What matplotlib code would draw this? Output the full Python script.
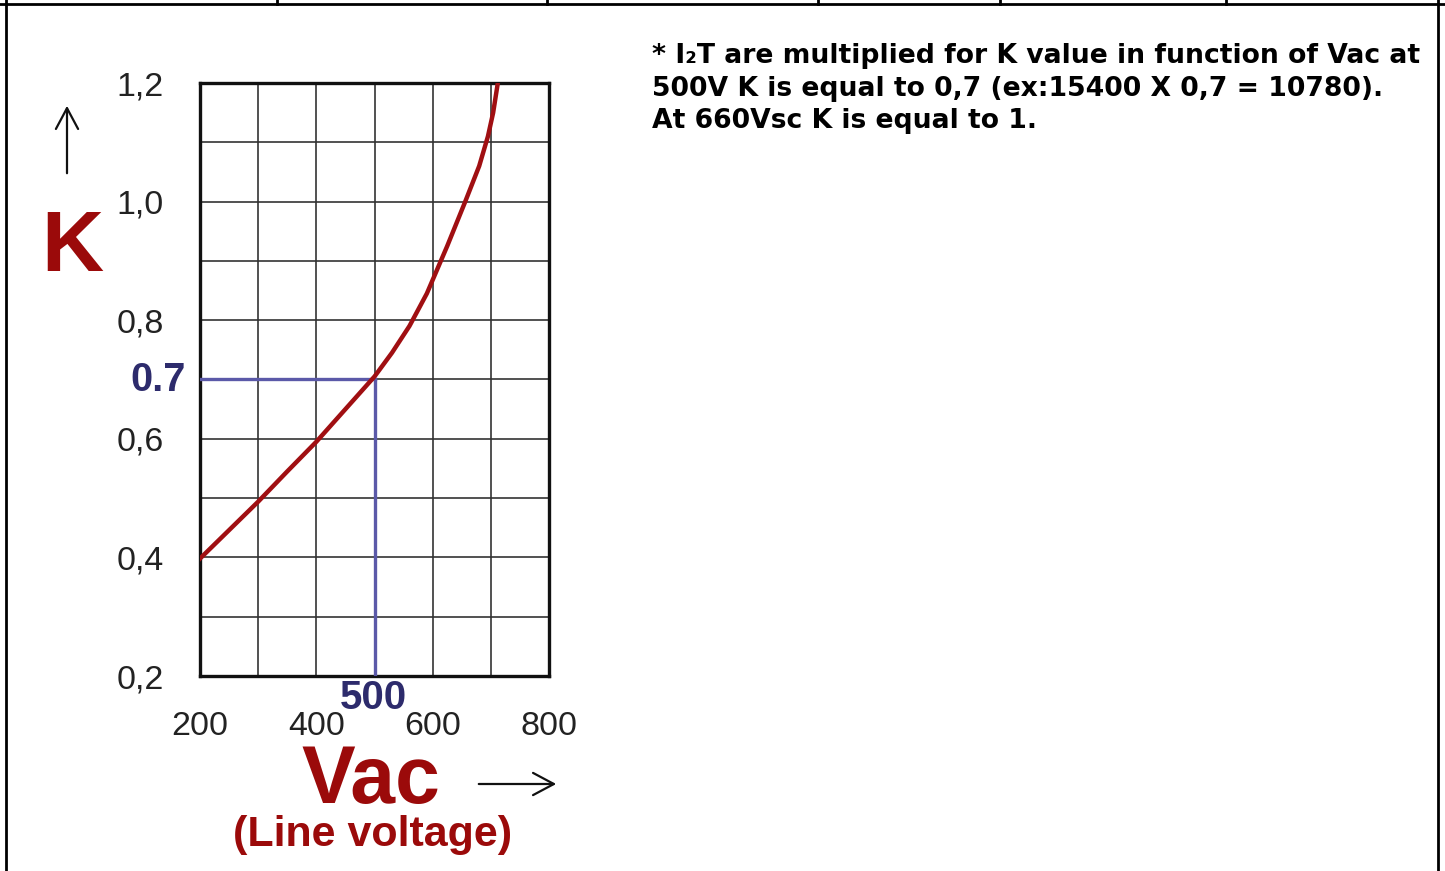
import matplotlib
matplotlib.use("Agg")
import matplotlib.pyplot as plt
from matplotlib.lines import Line2D

# Data (Vac -> K)
vac = [200, 250, 300, 350, 400, 450, 500, 530, 560, 590, 625, 656, 680, 695, 704, 712]
k_value = [0.398, 0.446, 0.494, 0.545, 0.595, 0.650, 0.705, 0.745, 0.79, 0.845, 0.925,
           1.0, 1.06, 1.11, 1.15, 1.2]

x_ticks = [200, 400, 600, 800]
x_labels = ["200", "400", "600", "800"]
y_ticks = [0.2, 0.4, 0.6, 0.8, 1.0, 1.2]
y_labels = ["0,2", "0,4", "0,6", "0,8", "1,0", "1,2"]

ref_v = 500
ref_k = 0.7

note_lines = [
    "* I\u2082T are multiplied for K value in function of Vac at",
    "500V K is equal to 0,7 (ex:15400 X 0,7 = 10780).",
    "At 660Vsc K is equal to 1.",
]

RED = "#a00f12"
DARKRED = "#9b0a0a"
NAVY = "#2d2b6c"
BLUE = "#5b59a8"

W, H = 1445, 871
fig = plt.figure(figsize=(W / 100, H / 100), dpi=100)
fig.patch.set_facecolor("white")

def px(x, y):
    return x / W, 1 - y / H

l, b = px(200, 676)
r, t = px(549, 83)
ax = fig.add_axes([l, b, r - l, t - b])

ax.plot(vac, k_value, color=RED, lw=3.2, solid_joinstyle="round", zorder=4)
ax.plot([200, ref_v], [ref_k, ref_k], color=BLUE, lw=2.4, zorder=3)
ax.plot([ref_v, ref_v], [0.2, ref_k], color=BLUE, lw=2.4, zorder=3)

ax.set_xlim(200, 800)
ax.set_ylim(0.2, 1.2)
ax.set_xticks(x_ticks)
ax.set_xticklabels(x_labels)
ax.set_xticks([300, 500, 700], minor=True)
ax.set_yticks(y_ticks)
ax.set_yticklabels(y_labels)
ax.set_yticks([0.3, 0.5, 0.7, 0.9, 1.1], minor=True)
ax.grid(True, which="both", color="#333333", lw=1.2, zorder=1)
ax.set_axisbelow(True)
ax.tick_params(which="both", length=0)
ax.tick_params(axis="x", pad=25)
ax.tick_params(axis="y", pad=26)
for lab in ax.get_xticklabels() + ax.get_yticklabels():
    lab.set_fontfamily("Liberation Sans")
    lab.set_fontsize(24.5)
    lab.set_color("#222222")
for sp in ax.spines.values():
    sp.set_linewidth(2.4)
    sp.set_color("#111111")

# highlighted reference labels
ax.annotate("0.7", xy=(200, ref_k), xytext=(-10, 0), textcoords="offset points",
            ha="right", va="center", fontsize=28.5, fontweight="bold",
            color=NAVY, family="Liberation Sans")
ax.annotate("500", xy=(ref_v, 0.2), xytext=(-1, -16), textcoords="offset points",
            ha="center", va="center", fontsize=29, fontweight="bold",
            color=NAVY, family="Liberation Sans")

# axis names
fig.text(*px(72, 249), "K", ha="center", va="center", fontsize=62,
         fontweight="bold", color=DARKRED, family="Liberation Sans")
fig.text(*px(371, 782), "Vac", ha="center", va="center", fontsize=58,
         fontweight="bold", color=DARKRED, family="Liberation Sans")
fig.text(*px(373, 835), "(Line voltage)", ha="center", va="center", fontsize=31,
         fontweight="bold", color=DARKRED, family="Liberation Sans")

arrow = dict(arrowstyle="->,head_length=1.5,head_width=0.8", color="#111111", lw=1.6)
fig.add_artist(plt.Annotation("", xy=px(67, 103), xytext=px(67, 176),
                              xycoords="figure fraction", textcoords="figure fraction",
                              arrowprops=arrow))
fig.add_artist(plt.Annotation("", xy=px(559, 784), xytext=px(476, 784),
                              xycoords="figure fraction", textcoords="figure fraction",
                              arrowprops=arrow))

# note text
for i, line in enumerate(note_lines):
    fig.text(*px(652, 56 + i * 32.5), line, ha="left", va="center", fontsize=19.2,
             fontweight="bold", color="black", family="DejaVu Sans")

# table borders
def seg(x0, y0, x1, y1, lw=2):
    fig.add_artist(Line2D([x0 / W, x1 / W], [1 - y0 / H, 1 - y1 / H],
                          color="black", lw=lw, transform=fig.transFigure))

seg(0, 4, W, 4)
seg(6, 0, 6, H)
seg(1438, 0, 1438, H)
for xv in [277, 547, 818, 1000, 1226]:
    seg(xv, 0, xv, 4)

fig.savefig("out.png", dpi=100, facecolor="white")
